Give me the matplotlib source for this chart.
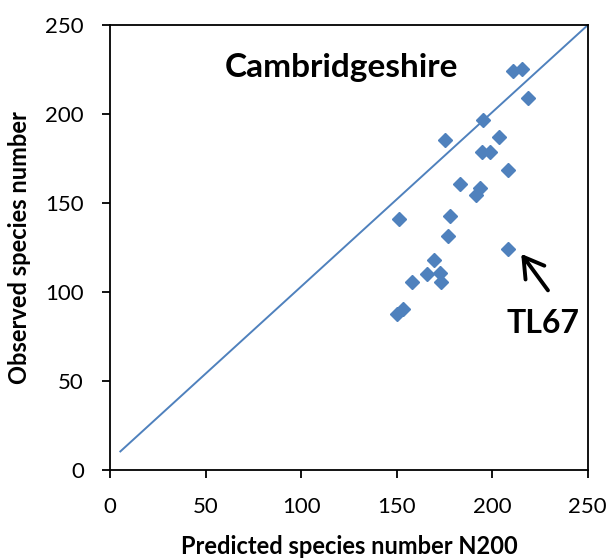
import matplotlib.pyplot as plt

# predicted (N200) vs observed species number
predicted = [211, 215.5, 218.8, 195.2, 175.3, 203.6, 194.7, 198.9, 208.4, 183.2,
             193.4, 191.6, 151.2, 177.9, 176.9, 208.3, 169.5, 165.9, 172.7, 173.2,
             158.0, 153.3, 150.2]
observed = [224.5, 225.5, 209, 196.6, 185.5, 187, 178.7, 178.7, 168.5, 160.7,
            158.4, 154.5, 141, 142.5, 131.5, 124.2, 118, 110.1, 110.7, 105.8,
            105.8, 90.4, 87.8]

# fitted line end points
line_x = [5.3, 250]
line_y = [10.5, 250]

blue = '#4F81BD'
font = 'Lato'

fig = plt.figure(figsize=(6.09, 5.59), dpi=100)
ax = fig.add_axes([0.181, 0.159, 0.784, 0.796])

ax.plot(line_x, line_y, color=blue, lw=1.4)
ax.plot(predicted, observed, 'D', color=blue, ms=7, mec=blue, ls='none')

ax.set_xlim(0, 250)
ax.set_ylim(0, 250)
ax.set_xticks(range(0, 251, 50))
ax.set_yticks(range(0, 251, 50))
ax.tick_params(direction='out', length=6, width=1.3, labelsize=16, pad=13)
for lab in ax.get_xticklabels() + ax.get_yticklabels():
    lab.set_fontfamily(font)
for s in ax.spines.values():
    s.set_linewidth(1.3)

ax.set_xlabel('Predicted species number N200', fontsize=17, fontweight='bold',
              family=font, labelpad=13)
ax.set_ylabel('Observed species number', fontsize=17, fontweight='bold',
              family=font, labelpad=10)

ax.text(121.3, 220.8, 'Cambridgeshire', fontsize=24, fontweight='bold', family=font,
        ha='center', va='baseline')
ax.text(226.4, 77, 'TL67', fontsize=23, fontweight='bold', family=font,
        ha='center', va='baseline')
ax.annotate('', xy=(215.2, 121.5), xytext=(229.2, 101),
            arrowprops=dict(arrowstyle='->, head_length=0.5, head_width=0.3',
                            lw=2.8, color='black', mutation_scale=28,
                            shrinkA=0, shrinkB=0))

fig.savefig('out.png', dpi=100)
